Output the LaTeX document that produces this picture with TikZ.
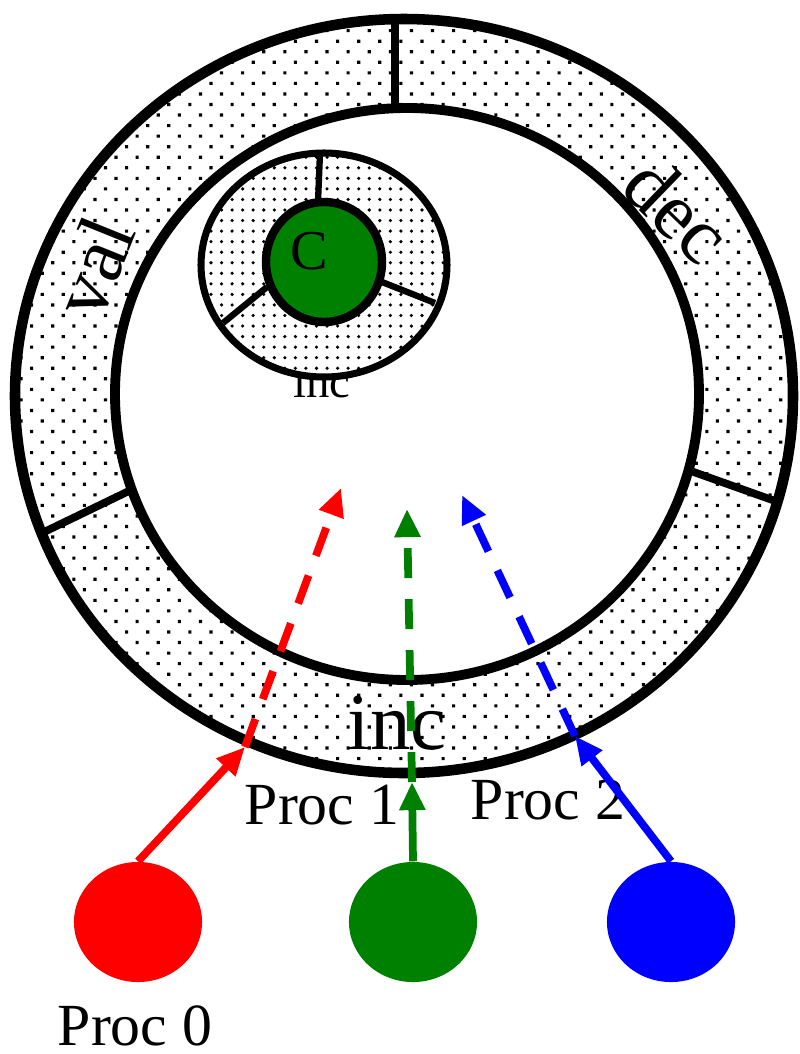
\documentclass[tikz,border=0pt]{standalone}
\usepackage{fontspec}
\setmainfont{Liberation Serif}
\usetikzlibrary{patterns,arrows.meta,shapes.geometric}
\pgfdeclarepatternformonly{ringdots}{\pgfqpoint{-1pt}{-1pt}}{\pgfqpoint{7pt}{7pt}}{\pgfqpoint{6pt}{6pt}}{%
  \pgfpathrectangle{\pgfqpoint{-0.45pt}{-0.45pt}}{\pgfqpoint{0.9pt}{0.9pt}}%
  \pgfpathrectangle{\pgfqpoint{2.55pt}{2.55pt}}{\pgfqpoint{0.9pt}{0.9pt}}%
  \pgfusepath{fill}}
\definecolor{dgreen}{RGB}{0,128,0}
\begin{document}
\begin{tikzpicture}[x=0.01cm, y=-0.01cm,
  proc/.style={ellipse, minimum width=1.28cm, minimum height=1.2cm, inner sep=0pt},
  lbl/.style={inner sep=0pt, font=\fontsize{17}{20}\selectfont},
  big/.style={inner sep=0pt, font=\fontsize{23}{26}\selectfont},
  push/.style={line width=2.2pt, -{Triangle[length=8pt, width=7pt]}},
  go/.style={push, dash pattern=on 8.5pt off 6pt}]
  \useasboundingbox (0,0) rectangle (799,1054);
  % the big ring
  \fill[pattern=ringdots, even odd rule] (404,396) ellipse [x radius=389, y radius=377]
    (407,394) ellipse [x radius=292, y radius=286];
  \draw[line width=3pt] (404,396) ellipse [x radius=389, y radius=377];
  \draw[line width=2.8pt] (407,394) ellipse [x radius=292, y radius=286];
  \draw[line width=2.2pt] (395,19) -- (395,108) (131,490) -- (42,533) (688,470) -- (778,502);
  \node[big, rotate=68] (val) at (93,267) {val};
  \node[big, rotate=-44] (dec) at (678,210) {dec};
  \node[big] (inc) at (397,723) {inc};
  % the small one inside
  \node[inner sep=0pt, font=\fontsize{13.3}{15}\selectfont] (minc) at (322,382) {inc};
  \fill[white] (324,265) ellipse [x radius=123, y radius=112];
  \fill[pattern=dots, even odd rule] (324,265) ellipse [x radius=123, y radius=112]
    (324,262) ellipse [x radius=58, y radius=60];
  \fill[dgreen] (324,262) ellipse [x radius=58, y radius=60];
  \draw[line width=2pt] (324,265) ellipse [x radius=123, y radius=112];
  \draw[line width=2.4pt] (324,262) ellipse [x radius=58, y radius=60];
  \draw[line width=1.8pt] (320,153) -- (318,202) (223,323) -- (267,287) (382,282) -- (435,303);
  \node[inner sep=0pt, font=\fontsize{16}{18}\selectfont] (c) at (309,251) {C};
  % processes
  \node[proc, fill=red] (p0) at (138,922) {};
  \node[proc, fill=dgreen] (p1) at (413,922) {};
  \node[proc, fill=blue] (p2) at (671,922) {};
  \node[lbl] (n0) at (135,1026) {Proc 0};
  \node[lbl] (n1) at (322,805) {Proc 1};
  \node[lbl] (n2) at (548,800) {Proc 2};
  \coordinate (r0) at (245,747); \coordinate (r1) at (341,488);
  \coordinate (g0) at (412,782); \coordinate (g1) at (407,509);
  \coordinate (b0) at (575,736); \coordinate (b1) at (462,495);
  \draw[push, red] (p0.north) -- (r0);
  \draw[go, red] (r0) -- (r1);
  \draw[push, dgreen] (p1.north) -- (g0);
  \draw[go, dgreen] (g0) -- (g1);
  \draw[push, blue] (p2.north) -- (b0);
  \draw[go, blue] (b0) -- (b1);
\end{tikzpicture}
\end{document}
